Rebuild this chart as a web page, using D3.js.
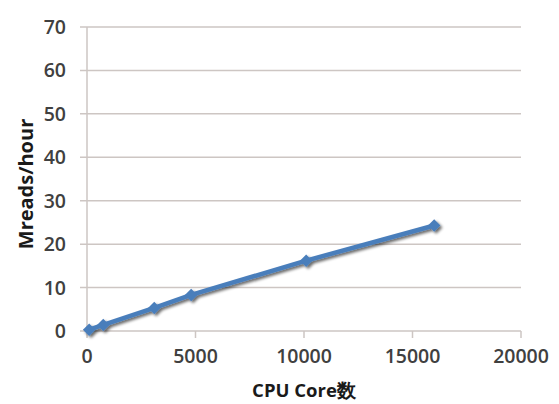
<!DOCTYPE html>
<html><head><meta charset="utf-8">
<script src="https://cdn.jsdelivr.net/npm/d3@7"></script>
<style>
body{margin:0;background:#fff;}
text{font-family:"Open Sans","Liberation Sans",sans-serif;}
</style></head>
<body><svg id="c" width="559" height="404"></svg>
<script>
const cores = [100, 750, 3100, 4800, 10100, 16000];
const mreads = [0.3, 1.4, 5.3, 8.3, 16.2, 24.3];
const xTicks = [0, 5000, 10000, 15000, 20000];
const yTicks = [0, 10, 20, 30, 40, 50, 60, 70];
const xTitle = "CPU Core数";
const yTitle = "Mreads/hour";

const svg = d3.select("#c");
const x = d3.scaleLinear().domain([0, 20000]).range([87, 521]);
const y = d3.scaleLinear().domain([0, 70]).range([331, 27]);

const defs = svg.append("defs");
const f = defs.append("filter").attr("id","sh").attr("x","-20%").attr("y","-20%").attr("width","140%").attr("height","140%");
f.append("feGaussianBlur").attr("in","SourceAlpha").attr("stdDeviation",1.5).attr("result","b");
f.append("feOffset").attr("in","b").attr("dx",2).attr("dy",2).attr("result","o");
f.append("feComponentTransfer").attr("in","o").attr("result","o2").append("feFuncA").attr("type","linear").attr("slope",0.6);
const m = f.append("feMerge");
m.append("feMergeNode").attr("in","o2");
m.append("feMergeNode").attr("in","SourceGraphic");

// gridlines
svg.append("g").selectAll("line").data(yTicks).join("line")
  .attr("x1", 80).attr("x2", 521)
  .attr("y1", d=>y(d)).attr("y2", d=>y(d))
  .attr("stroke", "#cdc6c3").attr("stroke-width", 1.5);
// y axis line
svg.append("line").attr("x1",87).attr("x2",87).attr("y1",y(70)).attr("y2",y(0))
  .attr("stroke","#cdc6c3").attr("stroke-width",1.5);
// x ticks
svg.append("g").selectAll("line").data(xTicks).join("line")
  .attr("x1", d=>x(d)).attr("x2", d=>x(d))
  .attr("y1", y(0)).attr("y2", y(0)+7)
  .attr("stroke", "#cdc6c3").attr("stroke-width", 1.5);

// tick labels
svg.append("g").selectAll("text").data(yTicks).join("text")
  .attr("x", 66).attr("y", d=>y(d)).attr("dy","0.36em")
  .attr("text-anchor","end").attr("font-size",19.5).attr("font-weight",600)
  .attr("fill","#404040").text(d=>d);
svg.append("g").selectAll("text").data(xTicks).join("text")
  .attr("x", d=>x(d)).attr("y", 363)
  .attr("text-anchor","middle").attr("font-size",19.5).attr("font-weight",600)
  .attr("fill","#404040").text(d=>d);

// titles
svg.append("text").attr("x",304).attr("y",397).attr("text-anchor","middle")
  .attr("font-size",18.5).attr("font-weight",700).attr("fill","#1a1a1a").text(xTitle);
svg.append("text").attr("transform","translate(33,184) rotate(-90)").attr("text-anchor","middle")
  .attr("font-size",20).attr("font-weight",700).attr("fill","#1a1a1a").text(yTitle);

// series
const data = cores.map((c,i)=>({x:c,y:mreads[i]}));
const g = svg.append("g").attr("filter","url(#sh)");
g.append("path").datum(data)
  .attr("d", d3.line().x(d=>x(d.x)).y(d=>y(d.y)))
  .attr("fill","none").attr("stroke","#4a7ebb").attr("stroke-width",4.5).attr("stroke-linejoin","round");
g.selectAll("path.m").data(data).join("path").attr("class","m")
  .attr("transform", d=>`translate(${x(d.x)},${y(d.y)})`)
  .attr("d", d3.symbol(d3.symbolDiamond2, 100)())
  .attr("fill","#4a7ebb");
</script></body></html>
